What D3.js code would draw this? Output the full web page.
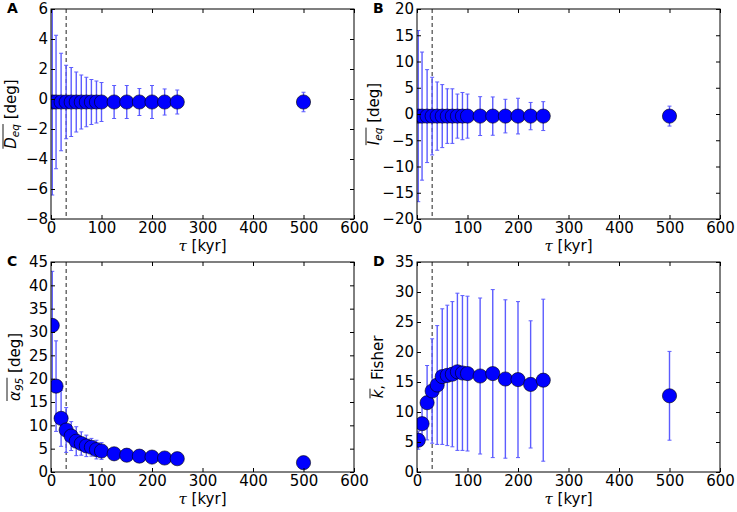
<!DOCTYPE html>
<html>
<head>
<meta charset="utf-8">
<script src="https://cdn.jsdelivr.net/npm/d3@7"></script>
<style>
  html, body { margin: 0; padding: 0; background: #fff; }
  svg { display: block; font-family: "DejaVu Sans", sans-serif; }
  text { white-space: pre; }
</style>
</head>
<body>
<svg id="chart" width="737" height="512"></svg>
<script>
// ---- data ----
const tau = [2.5, 10, 20, 30, 40, 50, 60, 70, 80, 90, 100, 125, 150, 175, 200, 225, 250, 500];
const xTicks = [0, 100, 200, 300, 400, 500, 600];
const tauCut = 30;

const declMean = [-0.2, -0.2, -0.2, -0.2, -0.2, -0.2, -0.2, -0.2, -0.2, -0.2, -0.2, -0.2, -0.2, -0.2, -0.2, -0.2, -0.2, -0.2];
const declErr  = [6.2, 4.45, 3.25, 2.45, 2.3, 2.0, 1.8, 1.65, 1.5, 1.4, 1.3, 1.1, 1.1, 0.9, 1.1, 0.87, 0.8, 0.65];

const inclMean = [-0.4, -0.4, -0.4, -0.4, -0.4, -0.4, -0.4, -0.4, -0.4, -0.4, -0.4, -0.4, -0.4, -0.4, -0.4, -0.4, -0.4, -0.4];
const inclErr  = [16.3, 12.2, 8.85, 7.4, 6.5, 6.0, 5.2, 5.2, 4.2, 4.5, 4.2, 3.7, 3.65, 3.2, 3.4, 2.6, 2.75, 1.9];

const a95Mean = [31.4, 18.4, 11.5, 9.0, 7.7, 6.6, 6.1, 5.6, 5.3, 4.8, 4.5, 3.9, 3.6, 3.4, 3.2, 3.0, 2.85, 2.0];
const a95Err  = [11.6, 9.7, 6.0, 4.8, 3.1, 3.1, 2.5, 2.3, 1.9, 2.0, 1.8, 1.0, 0.9, 0.8, 0.8, 0.7, 0.7, 0.5];

const kMean = [5.3, 8.05, 11.55, 13.5, 14.5, 15.9, 16.1, 16.3, 16.7, 16.5, 16.4, 16.0, 16.4, 15.5, 15.4, 14.6, 15.3, 12.7];
const kErr  = [1.5, 3.3, 6.2, 8.7, 9.9, 11.3, 11.7, 12.1, 13.1, 12.9, 12.9, 13.0, 14.0, 13.2, 13.0, 10.6, 13.5, 7.4];

const ticksA = [-8, -6, -4, -2, 0, 2, 4, 6];
const ticksB = [-20, -15, -10, -5, 0, 5, 10, 15, 20];
const ticksC = [0, 5, 10, 15, 20, 25, 30, 35, 40, 45];
const ticksD = [0, 5, 10, 15, 20, 25, 30, 35];

// ---- layout ----
const svg = d3.select("#chart");
const W = 303, H = 210;
const FS = 15;
const panels = [
  {letter: "A", left: 51,  top: 9,   ydom: [-8, 6],   yt: ticksA, mean: declMean, err: declErr, lab: "D", sub: "eq", rest: " [deg]", labX: 16},
  {letter: "B", left: 417, top: 9,   ydom: [-20, 20], yt: ticksB, mean: inclMean, err: inclErr, lab: "I", sub: "eq", rest: " [deg]", labX: 379},
  {letter: "C", left: 51,  top: 262, ydom: [0, 45],   yt: ticksC, mean: a95Mean,  err: a95Err,  lab: "α", sub: "95", rest: " [deg]", labX: 20},
  {letter: "D", left: 417, top: 262, ydom: [0, 35],   yt: ticksD, mean: kMean,    err: kErr,    lab: "k", sub: "",   rest: ", Fisher", labX: 383}
];

const barColor = "#5c5cff";
const fmt = d => d < 0 ? "\u2212" + Math.abs(d) : String(d);

panels.forEach((p, pi) => {
  const x = d3.scaleLinear().domain([0, 600]).range([p.left, p.left + W]);
  const y = d3.scaleLinear().domain(p.ydom).range([p.top + H, p.top]);
  const g = svg.append("g");

  const clipId = "clip" + pi;
  svg.append("clipPath").attr("id", clipId)
    .append("rect").attr("x", p.left).attr("y", p.top).attr("width", W).attr("height", H);

  const plot = g.append("g").attr("clip-path", `url(#${clipId})`);

  // dashed vertical line
  plot.append("line")
    .attr("x1", x(tauCut)).attr("x2", x(tauCut))
    .attr("y1", p.top).attr("y2", p.top + H)
    .attr("stroke", "#222").attr("stroke-width", 1)
    .attr("stroke-dasharray", "4,3");

  const data = tau.map((t, i) => ({t, m: p.mean[i], e: p.err[i]}));

  // error bars
  const eb = plot.selectAll("g.eb").data(data).join("g").attr("class", "eb")
    .attr("stroke", barColor).attr("stroke-width", 1.4);
  eb.append("line")
    .attr("x1", d => x(d.t)).attr("x2", d => x(d.t))
    .attr("y1", d => y(d.m - d.e)).attr("y2", d => y(d.m + d.e));
  eb.append("line")
    .attr("x1", d => x(d.t) - 2).attr("x2", d => x(d.t) + 2)
    .attr("y1", d => y(d.m + d.e)).attr("y2", d => y(d.m + d.e)).attr("stroke-width", 1);
  eb.append("line")
    .attr("x1", d => x(d.t) - 2).attr("x2", d => x(d.t) + 2)
    .attr("y1", d => y(d.m - d.e)).attr("y2", d => y(d.m - d.e)).attr("stroke-width", 1);

  // markers
  plot.selectAll("circle").data(data).join("circle")
    .attr("cx", d => x(d.t)).attr("cy", d => y(d.m)).attr("r", 7.1)
    .attr("fill", "#0000ff").attr("stroke", "#000").attr("stroke-width", 0.6);

  // frame
  g.append("rect").attr("x", p.left).attr("y", p.top).attr("width", W).attr("height", H)
    .attr("fill", "none").attr("stroke", "#000").attr("stroke-width", 1);

  // axes (ticks inside, on all sides)
  const tl = 4;
  const axB = g.append("g").attr("transform", `translate(0,${p.top + H})`)
    .call(d3.axisBottom(x).tickValues(xTicks).tickSize(-tl).tickPadding(3).tickFormat(fmt));
  const axT = g.append("g").attr("transform", `translate(0,${p.top})`)
    .call(d3.axisTop(x).tickValues(xTicks).tickSize(-tl).tickFormat(""));
  const axL = g.append("g").attr("transform", `translate(${p.left},0)`)
    .call(d3.axisLeft(y).tickValues(p.yt).tickSize(-tl).tickPadding(3).tickFormat(fmt));
  const axR = g.append("g").attr("transform", `translate(${p.left + W},0)`)
    .call(d3.axisRight(y).tickValues(p.yt).tickSize(-tl).tickFormat(""));
  [axB, axT, axL, axR].forEach(a => {
    a.select(".domain").remove();
    a.selectAll(".tick line").attr("stroke", "#000");
    a.selectAll("text").attr("font-size", FS).attr("fill", "#000")
      .attr("font-family", "DejaVu Sans, sans-serif");
  });

  // x label
  const xl = g.append("text")
    .attr("x", p.left + W / 2).attr("y", p.top + H + 32)
    .attr("text-anchor", "middle").attr("font-size", FS).attr("fill", "#000");
  xl.append("tspan").attr("font-style", "italic").attr("font-family", "DejaVu Serif, serif").text("τ");
  xl.append("tspan").text(" [kyr]");

  // y label (rotated), with overline over the math part
  const cy = p.top + H / 2;
  const lg = g.append("g").attr("transform", `translate(${p.labX},${cy}) rotate(-90)`);
  const mathT = lg.append("text").attr("font-size", FS).attr("fill", "#000");
  mathT.append("tspan").attr("font-style", "italic").text(p.lab);
  if (p.sub) {
    mathT.append("tspan").attr("font-style", "italic").attr("font-size", 10.5).attr("dy", 3).text(p.sub);
  }
  const restT = lg.append("text").attr("font-size", FS).attr("fill", "#000").text(p.rest);
  const mw = mathT.node().getComputedTextLength();
  const rw = restT.node().getComputedTextLength();
  const total = mw + rw;
  mathT.attr("x", -total / 2);
  restT.attr("x", -total / 2 + mw);
  lg.append("line")
    .attr("x1", -total / 2).attr("x2", -total / 2 + mw + (p.sub ? 0 : 1))
    .attr("y1", -13).attr("y2", -13).attr("stroke", "#000").attr("stroke-width", 0.9);

  // panel letter
  g.append("text").attr("x", p.left - 44).attr("y", p.top + 4)
    .attr("font-size", 14).attr("font-weight", "bold").attr("fill", "#000").text(p.letter);
});
</script>
</body>
</html>
